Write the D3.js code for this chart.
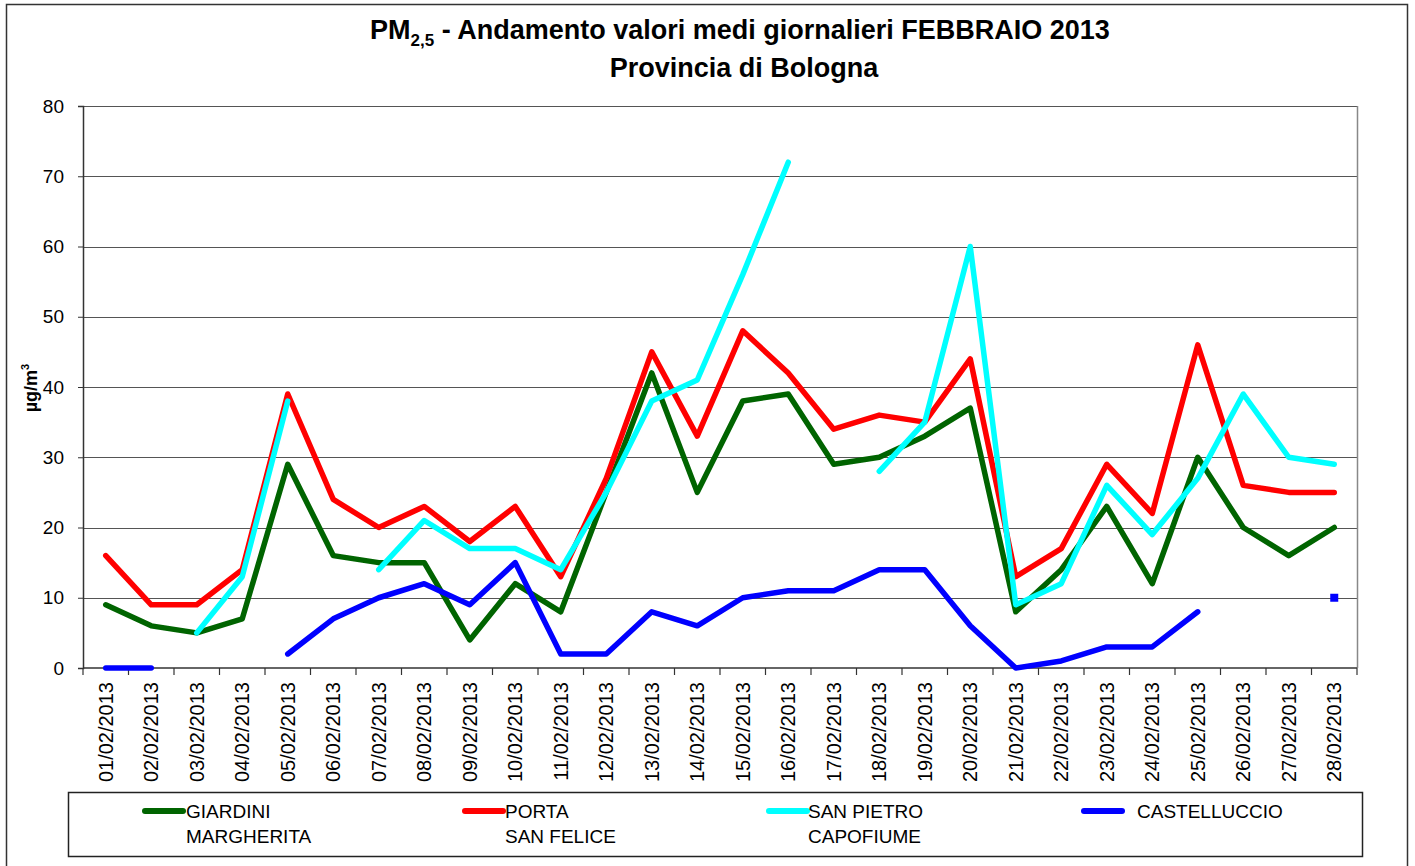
<!DOCTYPE html>
<html lang="it">
<head>
<meta charset="UTF-8">
<title>PM2,5 - Provincia di Bologna</title>
<style>
  body { margin: 0; background: #fff; }
  svg { display: block; font-family: "Liberation Sans", Arial, sans-serif; }
</style>
<script src="https://cdn.jsdelivr.net/npm/d3@7"></script>
</head>
<body>
<div id="chart"></div>
<script>
// giorni di febbraio 2013
const dates = ["01/02/2013","02/02/2013","03/02/2013","04/02/2013","05/02/2013","06/02/2013","07/02/2013",
  "08/02/2013","09/02/2013","10/02/2013","11/02/2013","12/02/2013","13/02/2013","14/02/2013",
  "15/02/2013","16/02/2013","17/02/2013","18/02/2013","19/02/2013","20/02/2013","21/02/2013",
  "22/02/2013","23/02/2013","24/02/2013","25/02/2013","26/02/2013","27/02/2013","28/02/2013"]

// valori medi giornalieri (null = dato mancante)
const giardini = [9, 6, 5, 7, 29, 16, 15, 15, 4, 12, 8, 25, 42, 25, 38, 39, 29, 30, 33, 37, 8, 14, 23, 12, 30, 20, 16, 20]
const portaSanFelice = [16, 9, 9, 14, 39, 24, 20, 23, 18, 23, 13, 27, 45, 33, 48, 42, 34, 36, 35, 44, 13, 17, 29, 22, 46, 26, 25, 25]
const sanPietro = [null, null, 5, 13, 38, null, 14, 21, 17, 17, 14, 25, 38, 41, 56, 72, null, 28, 35, 60, 9, 12, 26, 19, 27, 39, 30, 29]
const castelluccio = [0, 0, null, null, 2, 7, 10, 12, 9, 15, 2, 2, 8, 6, 10, 11, 11, 14, 14, 6, 0, 1, 3, 3, 8, null, null, 10]

const yTicks = [0, 10, 20, 30, 40, 50, 60, 70, 80]

const series = [
  { label: ["GIARDINI", "MARGHERITA"], values: giardini, color: "#006400" },
  { label: ["PORTA", "SAN FELICE"], values: portaSanFelice, color: "#ff0000" },
  { label: ["SAN PIETRO", "CAPOFIUME"], values: sanPietro, color: "#00ffff" },
  { label: ["CASTELLUCCIO"], values: castelluccio, color: "#0000ff" }
]

const W = 1415, H = 866
const plot = { left: 83, right: 1357, top: 106, bottom: 668 }

const svg = d3.select("#chart").append("svg").attr("width", W).attr("height", H)

// cornice esterna
svg.append("rect")
  .attr("x", 6.5).attr("y", 4.5).attr("width", 1401).attr("height", H)
  .attr("fill", "none").attr("stroke", "#333").attr("stroke-width", 1.5)

// titolo
const title = svg.append("text").attr("x", 740).attr("y", 39)
  .attr("text-anchor", "middle").attr("font-size", 27).attr("font-weight", "bold").attr("fill", "#000")
title.append("tspan").text("PM")
title.append("tspan").attr("font-size", 17).attr("dy", 7).text("2,5")
title.append("tspan").attr("dy", -7).text(" - Andamento valori medi giornalieri FEBBRAIO 2013")

svg.append("text").attr("x", 744).attr("y", 77)
  .attr("text-anchor", "middle").attr("font-size", 27).attr("font-weight", "bold")
  .text("Provincia di Bologna")

const x = d3.scaleBand().domain(dates).range([plot.left, plot.right])
const y = d3.scaleLinear().domain([0, 80]).range([plot.bottom, plot.top])
const cx = d => x(d) + x.bandwidth() / 2

// griglia
svg.append("g").selectAll("line").data(yTicks.filter(t => t > 0)).join("line")
  .attr("x1", plot.left).attr("x2", plot.right)
  .attr("y1", d => Math.round(y(d)) + 0.5).attr("y2", d => Math.round(y(d)) + 0.5)
  .attr("stroke", "#555").attr("stroke-width", 1)

svg.append("line")
  .attr("x1", plot.right + 0.5).attr("x2", plot.right + 0.5)
  .attr("y1", plot.top).attr("y2", plot.bottom)
  .attr("stroke", "#888").attr("stroke-width", 1.5)

// asse y
const yAxis = d3.axisLeft(y).tickValues(yTicks).tickSize(5).tickPadding(14)
const yG = svg.append("g").attr("transform", `translate(${plot.left},0)`).call(yAxis)
yG.select(".domain").attr("stroke", "#333").attr("stroke-width", 1.5)
yG.selectAll(".tick line").attr("stroke", "#333")
yG.selectAll(".tick text").attr("font-size", 19).attr("font-family", "Liberation Sans, Arial, sans-serif").attr("fill", "#000")

const yLab = svg.append("text")
  .attr("transform", "translate(37,388) rotate(-90)")
  .attr("text-anchor", "middle").attr("font-size", 18).attr("font-weight", "bold")
yLab.append("tspan").text("µg/m")
yLab.append("tspan").attr("font-size", 11).attr("dy", -8).text("3")

// asse x
svg.append("line")
  .attr("x1", plot.left).attr("x2", plot.right)
  .attr("y1", plot.bottom).attr("y2", plot.bottom)
  .attr("stroke", "#333").attr("stroke-width", 1.5)

const bounds = dates.map(d => x(d)).concat([plot.right])
svg.append("g").selectAll("line").data(bounds).join("line")
  .attr("x1", d => d).attr("x2", d => d)
  .attr("y1", plot.bottom).attr("y2", plot.bottom + 7)
  .attr("stroke", "#333").attr("stroke-width", 1.2)

svg.append("g").selectAll("text").data(dates).join("text")
  .attr("transform", d => `translate(${cx(d) + 7},${plot.bottom + 14}) rotate(-90)`)
  .attr("text-anchor", "end").attr("font-size", 20).attr("fill", "#000")
  .text(d => d)

// linee
const line = d3.line()
  .defined(d => d != null)
  .x((d, i) => cx(dates[i]))
  .y(d => y(d))

const lines = svg.append("g")
series.forEach(s => {
  lines.append("path")
    .attr("d", line(s.values))
    .attr("fill", "none").attr("stroke", s.color).attr("stroke-width", 5.5)
    .attr("stroke-linejoin", "round").attr("stroke-linecap", "round")

  // punti isolati
  s.values.forEach((v, i) => {
    const prev = s.values[i - 1], next = s.values[i + 1]
    if (v != null && prev == null && next == null) {
      lines.append("rect")
        .attr("x", cx(dates[i]) - 4).attr("y", y(v) - 4)
        .attr("width", 8).attr("height", 8).attr("fill", s.color)
    }
  })
})

// legenda
const legend = svg.append("g")
legend.append("rect")
  .attr("x", 68.5).attr("y", 792.5).attr("width", 1294).attr("height", 64)
  .attr("fill", "#fff").attr("stroke", "#222").attr("stroke-width", 1.5)

const legendX = [145, 465, 769, 1084]
const legendTextX = [186, 505, 808, 1137]
series.forEach((s, i) => {
  legend.append("line")
    .attr("x1", legendX[i]).attr("x2", legendX[i] + 38)
    .attr("y1", 811).attr("y2", 811)
    .attr("stroke", s.color).attr("stroke-width", 6).attr("stroke-linecap", "round")
  s.label.forEach((t, j) => {
    legend.append("text")
      .attr("x", legendTextX[i]).attr("y", 818 + j * 25)
      .attr("font-size", 19).attr("fill", "#000")
      .text(t)
  })
})
</script>
</body>
</html>
